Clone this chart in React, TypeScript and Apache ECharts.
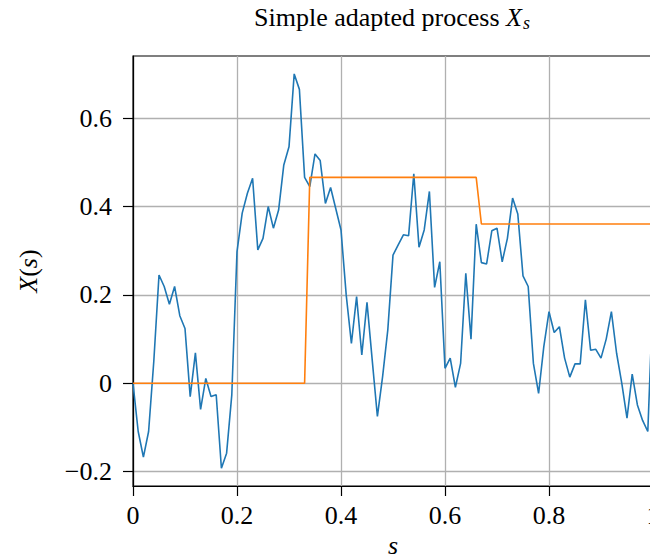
import React, { useEffect, useRef } from "react";
import * as echarts from "echarts";

// Sample times s = 0, 0.01, ..., 1.00 (101 samples), process values
const processValues: number[] = [
  0, -0.109, -0.167, -0.109, 0.05, 0.245, 0.219, 0.179, 0.219, 0.153,
  0.124, -0.03, 0.069, -0.059, 0.011, -0.03, -0.026, -0.192, -0.158, -0.026,
  0.298, 0.385, 0.43, 0.464, 0.302, 0.328, 0.4, 0.351, 0.392, 0.494,
  0.535, 0.7, 0.665, 0.466, 0.445, 0.519, 0.504, 0.407, 0.443, 0.395,
  0.347, 0.2, 0.09, 0.196, 0.064, 0.183, 0.053, -0.075, 0.015, 0.121,
  0.29, 0.313, 0.336, 0.334, 0.474, 0.308, 0.347, 0.434, 0.217, 0.275,
  0.034, 0.057, -0.009, 0.045, 0.249, 0.1, 0.36, 0.273, 0.27, 0.345,
  0.351, 0.275, 0.328, 0.419, 0.383, 0.243, 0.219, 0.045, -0.023, 0.083,
  0.162, 0.115, 0.128, 0.057, 0.014, 0.044, 0.044, 0.189, 0.075, 0.077,
  0.057, 0.1, 0.162, 0.068, 0, -0.079, 0.021, -0.049, -0.084, -0.109,
  0.2,
];
const sampleStep = 0.01;

// Simple (piecewise constant) process vertices [s, value]
const simpleProcess: [number, number][] = [
  [0, 0],
  [0.33, 0],
  [0.34, 0.466],
  [0.66, 0.466],
  [0.67, 0.3605],
  [1, 0.3605],
];

const yTicks: number[] = [-0.2, 0, 0.2, 0.4, 0.6];
const xTicks: number[] = [0, 0.2, 0.4, 0.6, 0.8, 1];

const FONT = "Liberation Serif";

export default function App() {
  const ref = useRef<HTMLDivElement>(null);
  useEffect(() => {
    if (!ref.current) return;
    const chart = echarts.init(ref.current, undefined, { renderer: "svg" });
    const processData = processValues.map((v, i) => [
      +(i * sampleStep).toFixed(2),
      v,
    ]);
    const fmt = (v: number) => {
      if (Math.abs(v) < 1e-9) return "0";
      if (Math.abs(v - Math.round(v)) < 1e-9) return String(Math.round(v));
      return v.toFixed(1).replace("-", "\u2212");
    };
    chart.setOption({
      animation: false,
      backgroundColor: "#ffffff",
      textStyle: { fontFamily: FONT },
      grid: {
        left: 133,
        top: 56,
        width: 520,
        height: 430,
        show: true,
        borderColor: "#000000",
        borderWidth: 1.2,
        backgroundColor: "transparent",
        containLabel: false,
        outerBoundsMode: "none",
      },
      graphic: [
        {
          type: "text",
          x: 392,
          y: 2,
          style: {
            text: "{a|Simple adapted process }{x|X}{s|s}",
            align: "center",
            verticalAlign: "top",
            fill: "#000",
            rich: {
              a: { fontFamily: FONT, fontSize: 26, fill: "#000", color: "#000" },
              x: {
                fontFamily: FONT,
                fontSize: 26,
                fontStyle: "italic",
                fill: "#000",
                color: "#000",
              },
              s: {
                fontFamily: FONT,
                fontSize: 18,
                fontStyle: "italic",
                padding: [12, 0, 0, 1],
                fill: "#000",
                color: "#000",
              },
            },
          },
        },
      ],
      xAxis: {
        type: "value",
        min: 0,
        max: 1,
        interval: 0.2,
        name: "s",
        nameLocation: "middle",
        nameGap: 46,
        nameTextStyle: {
          fontFamily: FONT,
          fontSize: 26,
          fontStyle: "italic",
          color: "#000",
        },
        axisLine: {
          show: true,
          onZero: false,
          lineStyle: { color: "#000", width: 1.2 },
        },
        axisTick: {
          show: true,
          length: 10,
          lineStyle: { color: "#000", width: 1.2 },
        },
        axisLabel: {
          margin: 16,
          fontFamily: FONT,
          fontSize: 26,
          color: "#000",
          formatter: (v: number) => fmt(v),
          customValues: xTicks,
        },
        splitLine: { show: true, lineStyle: { color: "#b0b0b0", width: 1.3 } },
      },
      yAxis: {
        type: "value",
        min: -0.2323,
        max: 0.7405,
        name: "{i|X}{n|(}{i|s}{n|)}",
        nameLocation: "middle",
        nameGap: 92,
        nameTextStyle: {
          color: "#000",
          rich: {
            i: { fontFamily: FONT, fontSize: 26, fontStyle: "italic", color: "#000" },
            n: { fontFamily: FONT, fontSize: 26, color: "#000" },
          },
        },
        axisLine: {
          show: true,
          onZero: false,
          lineStyle: { color: "#000", width: 1.2 },
        },
        axisTick: {
          show: true,
          length: 10,
          lineStyle: { color: "#000", width: 1.2 },
          customValues: yTicks,
        },
        axisLabel: {
          margin: 21,
          fontFamily: FONT,
          fontSize: 26,
          color: "#000",
          formatter: (v: number) => fmt(v),
          customValues: yTicks,
        },
        splitLine: { show: true, lineStyle: { color: "#b0b0b0", width: 1.3 } },
      },
      series: [
        {
          type: "line",
          data: processData,
          showSymbol: false,
          symbol: "none",
          lineStyle: { color: "#1f77b4", width: 1.6 },
          itemStyle: { color: "#1f77b4" },
          z: 3,
        },
        {
          type: "line",
          data: simpleProcess,
          showSymbol: false,
          symbol: "none",
          lineStyle: { color: "#ff7f0e", width: 1.6 },
          itemStyle: { color: "#ff7f0e" },
          z: 4,
        },
      ],
    });
    return () => chart.dispose();
  }, []);
  return (
    <div
      ref={ref}
      style={{ position: "absolute", left: 0, top: 0, width: 650, height: 560 }}
    />
  );
}
